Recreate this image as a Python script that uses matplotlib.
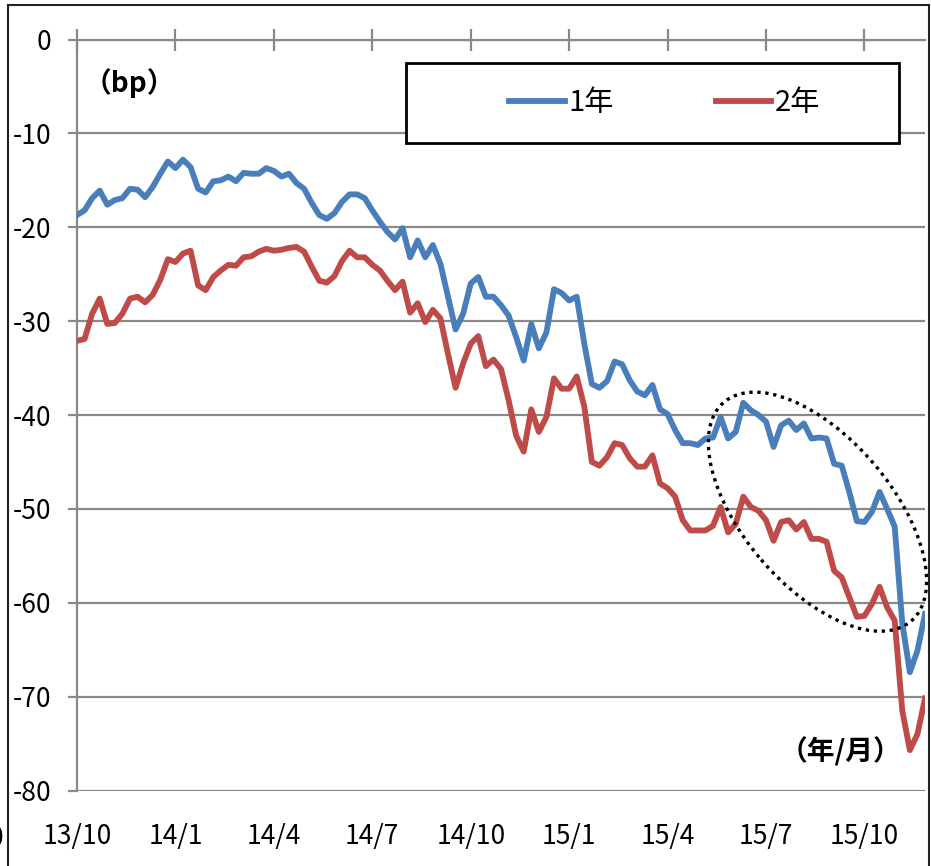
import numpy as np
import matplotlib
matplotlib.use("Agg")
import matplotlib.pyplot as plt
from matplotlib.patches import Ellipse, Rectangle
from matplotlib.lines import Line2D
from matplotlib.transforms import IdentityTransform

plt.rcParams['font.family'] = ['Liberation Sans Narrow', 'Noto Sans CJK JP', 'DejaVu Sans']
plt.rcParams['axes.unicode_minus'] = False

# weekly spread series (bp), 13/10 .. 15/11
yr1 = [-18.7, -18.2, -16.9, -16.1, -17.6, -17.1, -16.9, -15.9, -16.0, -16.8,
       -15.7, -14.3, -13.0, -13.7, -12.8, -13.6, -15.9, -16.3, -15.1, -15.0,
       -14.6, -15.1, -14.2, -14.3, -14.3, -13.7, -14.0, -14.6, -14.3, -15.3,
       -15.9, -17.4, -18.7, -19.1, -18.5, -17.3, -16.5, -16.5, -16.9, -18.2,
       -19.4, -20.5, -21.3, -20.1, -23.2, -21.4, -23.2, -21.9, -23.9, -27.4,
       -30.9, -29.2, -26.0, -25.3, -27.4, -27.4, -28.3, -29.4, -31.7, -34.2,
       -30.3, -32.9, -31.2, -26.6, -27.0, -27.8, -27.4, -32.4, -36.7, -37.1,
       -36.4, -34.3, -34.6, -36.3, -37.5, -37.9, -36.8, -39.4, -39.9, -41.6,
       -43.0, -43.0, -43.2, -42.5, -42.4, -40.2, -42.5, -41.8, -38.7, -39.5,
       -40.0, -40.7, -43.4, -41.1, -40.6, -41.6, -40.9, -42.5, -42.4, -42.5,
       -45.2, -45.4, -48.2, -51.3, -51.4, -50.3, -48.2, -50.0, -51.9, -62.2,
       -67.4, -65.1, -61.2]
yr2 = [-32.1, -31.9, -29.2, -27.6, -30.3, -30.2, -29.2, -27.6, -27.4, -28.0,
       -27.2, -25.6, -23.4, -23.7, -22.8, -22.5, -26.2, -26.7, -25.3, -24.6,
       -24.0, -24.1, -23.2, -23.1, -22.6, -22.3, -22.5, -22.4, -22.2, -22.1,
       -22.6, -24.2, -25.7, -25.9, -25.2, -23.6, -22.5, -23.2, -23.2, -24.0,
       -24.6, -25.7, -26.7, -25.8, -29.1, -28.1, -30.1, -28.8, -29.7, -33.5,
       -37.1, -34.5, -32.4, -31.6, -34.8, -34.1, -35.1, -38.4, -42.2, -43.9,
       -39.4, -41.8, -40.2, -36.1, -37.2, -37.2, -35.9, -39.1, -45.0, -45.4,
       -44.5, -43.0, -43.2, -44.6, -45.5, -45.5, -44.3, -47.3, -47.8, -48.7,
       -51.2, -52.3, -52.3, -52.3, -51.8, -49.8, -52.5, -51.6, -48.7, -49.8,
       -50.2, -51.2, -53.4, -51.4, -51.2, -52.2, -51.4, -53.2, -53.2, -53.5,
       -56.6, -57.3, -59.4, -61.5, -61.4, -60.1, -58.3, -60.5, -61.9, -71.5,
       -75.7, -74.0, -70.2]
xlabels = ['13/10', '14/1', '14/4', '14/7', '14/10', '15/1', '15/4', '15/7', '15/10']
ylabels = ['0', '-10', '-20', '-30', '-40', '-50', '-60', '-70', '-80']
names = ['1年', '2年']
colors = ['#4A7EBB', '#BE4B48']
grid_c = '#898989'

fig = plt.figure(figsize=(9.31, 8.66), dpi=100)
ax = fig.add_axes([77 / 931, 1 - 790.5 / 866, 848 / 931, 751 / 866])

x = np.arange(len(yr1))
ax.plot(x, yr1, color=colors[0], lw=4.2, solid_joinstyle='round', label=names[0], zorder=3)
ax.plot(x, yr2, color=colors[1], lw=4.2, solid_joinstyle='round', label=names[1], zorder=3)

ax.set_xlim(0, len(yr1) - 1)
ax.set_ylim(-80, 0)
yt = [-10 * i for i in range(len(ylabels))]
ax.set_yticks(yt)
ax.set_yticklabels(ylabels, fontsize=19)
ax.set_xticks(np.arange(len(xlabels)) * 13)
ax.set_xticklabels(xlabels, fontsize=19)

ax.yaxis.grid(True, color=grid_c, lw=1.6)
ax.set_axisbelow(True)
for s in ['right', 'bottom']:
    ax.spines[s].set_visible(False)
for s in ['left', 'top']:
    ax.spines[s].set_color(grid_c)
    ax.spines[s].set_linewidth(1.6)
ax.tick_params(axis='y', direction='out', length=6.5, width=1.6, color=grid_c, pad=12)
ax.xaxis.set_ticks_position('top')
ax.tick_params(axis='x', direction='inout', length=15.5, width=1.6, color=grid_c,
               top=True, bottom=False, labeltop=False, labelbottom=True, pad=16)

# legend box
ax.add_patch(Rectangle((0.388, 0.862), 0.581, 0.107, transform=ax.transAxes,
                       facecolor='white', edgecolor='black', lw=2, zorder=4))
ax.legend(loc='center', bbox_to_anchor=(0.693, 0.9155), ncol=2, frameon=False,
          fontsize=21, handlelength=1.9, handletextpad=0.12, columnspacing=3.5)

ax.text(0.008, 0.942, '（bp）', transform=ax.transAxes, fontsize=20,
        fontweight='bold', ha='left', va='center')
ax.text(0.972, 0.051, '（年/月）', transform=ax.transAxes, fontsize=20,
        fontweight='bold', ha='right', va='center')

# dotted ellipse around recent period
cx, cy = ax.transData.transform((97.8, -50.3))
ax.add_patch(Ellipse((cx, cy), 288, 148, angle=-49.5, transform=IdentityTransform(),
                     fill=False, edgecolor='black', lw=2.4, linestyle=(0, (1, 1.4)),
                     zorder=5, clip_on=False))

# outer frame of the chart
fig.add_artist(Line2D([8 / 931, 929 / 931], [1 - 5 / 866, 1 - 5 / 866], color='#222222', lw=1.5))
fig.add_artist(Line2D([8 / 931, 8 / 931], [0, 1 - 5 / 866], color='#222222', lw=1.5))
fig.add_artist(Line2D([929 / 931, 929 / 931], [0, 1 - 5 / 866], color='#222222', lw=1.5))
fig.text(0.004, 0.032, '0', fontsize=19, ha='right', va='center')

fig.savefig('out.png', dpi=100)
